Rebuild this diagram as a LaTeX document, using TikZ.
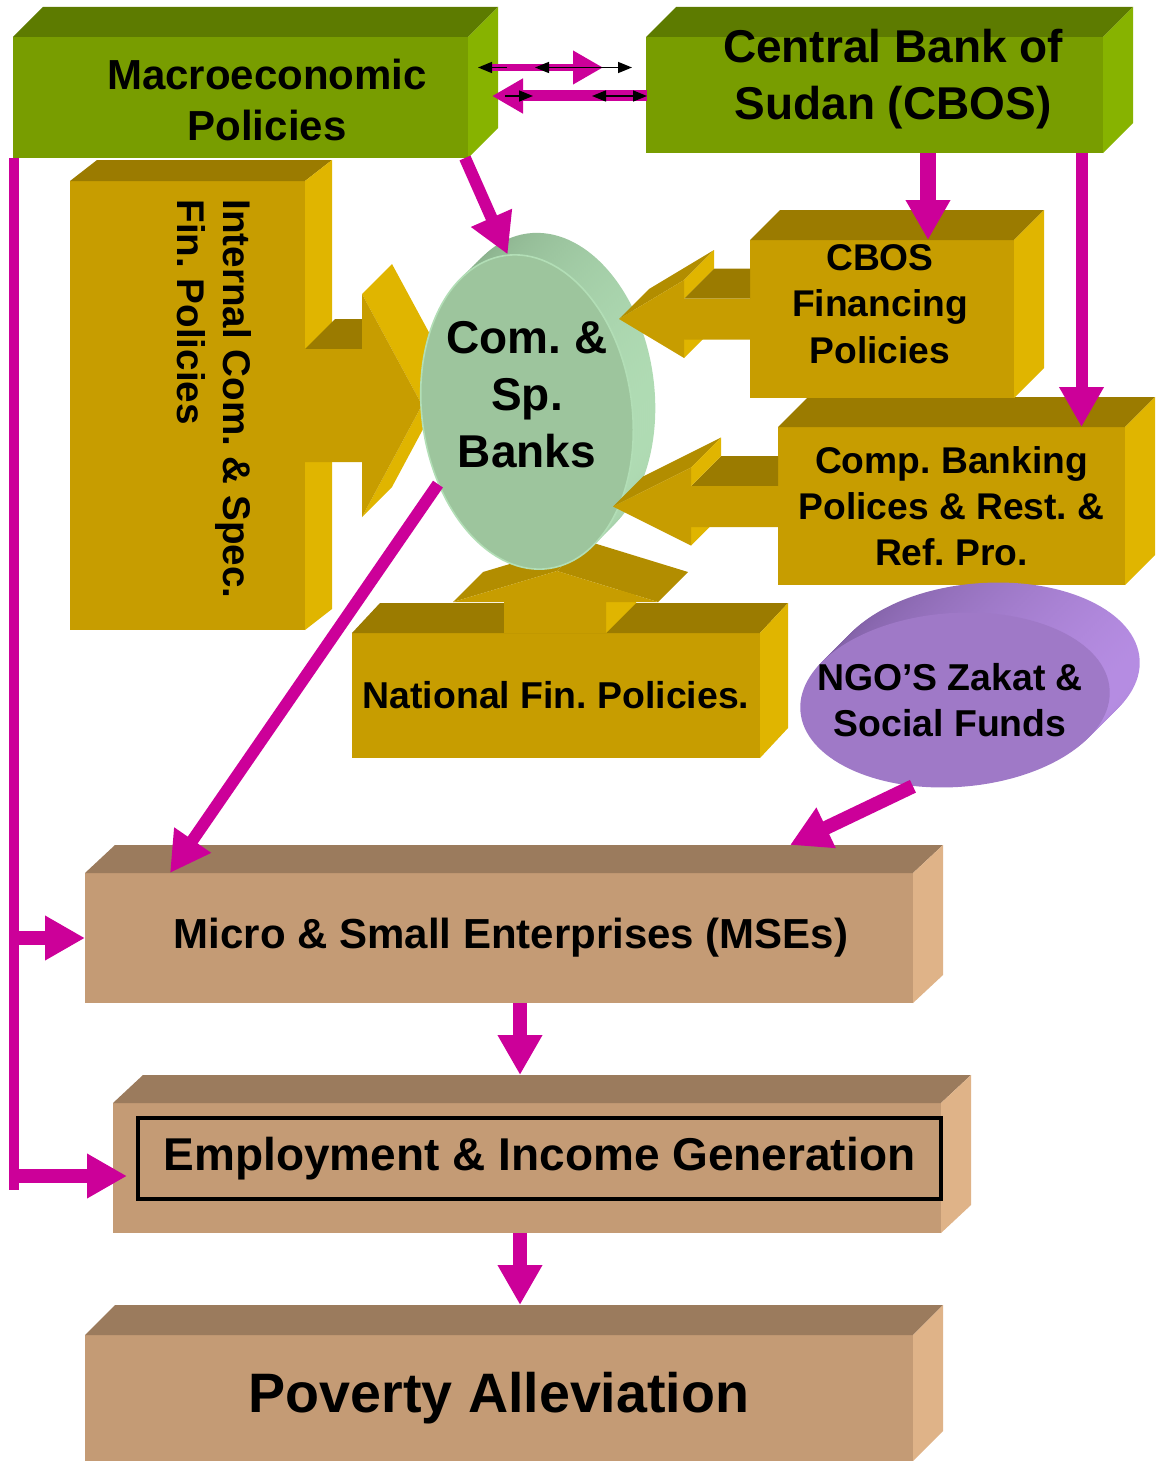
\documentclass[tikz,border=0pt]{standalone}
\usepackage{fontspec}
\setmainfont{Liberation Sans}
\usetikzlibrary{arrows.meta,shapes.geometric}
\frenchspacing

\definecolor{pinkc}{RGB}{204,0,153}
\definecolor{greenfront}{RGB}{120,157,0}
\definecolor{greentop}{RGB}{93,123,0}
\definecolor{greenside}{RGB}{135,179,0}
\definecolor{goldfront}{RGB}{199,157,0}
\definecolor{goldtop}{RGB}{155,123,0}
\definecolor{goldmid}{RGB}{178,141,0}
\definecolor{goldside}{RGB}{224,181,0}
\definecolor{tanfront}{RGB}{196,155,117}
\definecolor{tantop}{RGB}{155,123,93}
\definecolor{tanside}{RGB}{223,179,136}
\definecolor{bankfront}{RGB}{157,197,157}
\definecolor{bankdark}{RGB}{128,165,130}
\definecolor{banklight}{RGB}{178,222,182}
\definecolor{ngofront}{RGB}{159,121,199}
\definecolor{ngodark}{RGB}{126,94,162}
\definecolor{ngolight}{RGB}{182,141,227}

% top and side face of a block: node, depth x, depth y, top colour, side colour
\newcommand{\extrude}[5]{%
  \fill[#4] (#1.north west) -- ++(#2,#3) -- ([shift={(#2,#3)}]#1.north east) -- (#1.north east) -- cycle;
  \fill[#5] (#1.north east) -- ++(#2,#3) -- ([shift={(#2,#3)}]#1.south east) -- (#1.south east) -- cycle;
}

% block arrow pointing left: box edge x, head back x, tip x, centre y
\newcommand{\leftblock}[4]{%
  \fill[goldtop] (#2,#4-20.5) -- ++(30,-30) -- (#1,#4-50.5) -- (#1,#4-20.5) -- cycle;
  \fill[goldmid] (#3,#4) -- ++(30,-30) -- (#2+30,#4-69) -- (#2,#4-39) -- cycle;
  \fill[goldside] (#2,#4-39) -- ++(30,-30) -- (#2+30,#4-50.5) -- (#2,#4-20.5) -- cycle;
  \fill[goldside] (#2,#4+20.5) -- ++(30,-30) -- (#2+30,#4+9) -- (#2,#4+39) -- cycle;
  \fill[goldfront] (#1,#4-20.5) -- (#2,#4-20.5) -- (#2,#4-39) -- (#3,#4) -- (#2,#4+39) -- (#2,#4+20.5) -- (#1,#4+20.5) -- cycle;
}

\begin{document}
\begin{tikzpicture}[x=0.5pt, y=-0.5pt,
    face/.style={rectangle, inner sep=0pt, outer sep=0pt, anchor=north west},
    greenface/.style={face, fill=greenfront},
    goldface/.style={face, fill=goldfront},
    tanface/.style={face, fill=tanfront},
    words/.style 2 args={align=center, inner sep=0pt, font=\bfseries\fontsize{#1}{#2}\selectfont},
    pinkarrow/.style={draw=pinkc, line width=6pt, -{Triangle[length=20pt,width=21pt]}},
    pinkline/.style={draw=pinkc, line width=5pt},
    thinarrow/.style={draw=black, line width=0.75pt, >={Triangle[length=7pt,width=5.5pt]}}]

    \useasboundingbox (0,0) rectangle (1160,1461);

    % Policy blocks
    \node[greenface, minimum width=227.5pt, minimum height=60.5pt] (macro) at (13,37) {};
    \extrude{macro}{30}{-30}{greentop}{greenside}
    \node[words={21}{25.5}] (macrotext) at (267,100) {Macroeconomic\\Policies};

    \node[greenface, minimum width=228.5pt, minimum height=58pt] (cbos) at (646,37) {};
    \extrude{cbos}{30}{-30}{greentop}{greenside}
    \node[words={23}{28.5}] (cbostext) at (893,79) {Central Bank of\\Sudan (CBOS)};

    \node[goldface, minimum width=117.5pt, minimum height=224.5pt] (internal) at (70,181) {};
    \extrude{internal}{27}{-21}{goldtop}{goldside}
    \node[words={19.3}{23}, rotate=-90, align=left] (internaltext) at (214,399) {Internal Com. \& Spec.\\Fin. Policies};

    \node[goldface, words={18.6}{23}, minimum width=173.5pt, minimum height=79pt] (comp) at (778,427) {Comp. Banking\\Polices \& Rest. \&\\Ref. Pro.};
    \extrude{comp}{30}{-30}{goldtop}{goldside}

    \node[goldface, minimum width=132pt, minimum height=79pt] (fin) at (750,240) {};
    \extrude{fin}{30}{-30}{goldtop}{goldside}
    \node[words={18.6}{23.3}] (fintext) at (880,304) {CBOS\\Financing\\Policies};

    \node[goldface, words={18.7}{23}, minimum width=204pt, minimum height=62.5pt] (national) at (352,633) {National Fin. Policies.};
    \extrude{national}{28}{-30}{goldtop}{goldside}

    % Outcome blocks
    \node[tanface, words={21}{25}, minimum width=414pt, minimum height=65pt] (mse) at (85,873) {\hspace*{12pt}Micro \& Small Enterprises (MSEs)};
    \extrude{mse}{30}{-28}{tantop}{tanside}

    \node[tanface, minimum width=414pt, minimum height=65pt] (empl) at (113,1103) {};
    \extrude{empl}{30}{-28}{tantop}{tanside}
    \node[face, draw=black, line width=2pt, words={23}{27}, minimum width=401.5pt, minimum height=40.5pt] (emplframe) at (138,1118) {Employment \& Income Generation};

    \node[tanface, words={27.8}{32}, minimum width=414pt, minimum height=63pt] (pov) at (85,1335) {Poverty Alleviation};
    \extrude{pov}{30}{-30}{tantop}{tanside}

    % block arrow from the internal policies
    \fill[goldtop] (305,349) -- (335,319) -- (362,319) -- (362,349) -- cycle;
    \fill[goldside] (362,294) -- (392,264) -- (452,375) -- (422,405) -- cycle;
    \fill[goldside] (422,405) -- (452,375) -- (392,487) -- (362,517) -- cycle;
    \fill[goldfront] (305,349) -- (362,349) -- (362,294) -- (422,405) -- (362,517) -- (362,462) -- (305,462) -- cycle;

    % block arrow up from the national policies
    \fill[goldside] (606,633) -- (636,603) -- (636,572) -- (606,602) -- cycle;
    \fill[goldmid] (453,602) -- (483,572) -- (587,541) -- (557,571) -- cycle;
    \fill[goldmid] (557,571) -- (587,541) -- (688,572) -- (658,602) -- cycle;
    \fill[goldfront] (504,633) -- (504,602) -- (453,602) -- (557,571) -- (658,602) -- (606,602) -- (606,633) -- cycle;

    % Banks disc
    \coordinate (bankscentre) at (527,412);
    \foreach \k in {22,20,...,2} {
        \begin{scope}[shift={(527+\k,412-\k)}, rotate=8]
            \shade[left color=bankdark, right color=banklight] (0,0) ellipse [x radius=52.5pt, y radius=79pt];
        \end{scope}
    }
    \node[ellipse, rotate=8, fill=bankfront, draw=banklight, line width=0.8pt, minimum width=105pt, minimum height=158pt, inner sep=0pt] (banks) at (bankscentre) {};
    \node[words={23}{28.5}] (bankstext) at (527,395) {Com. \&\\Sp.\\Banks};

    \leftblock{750}{684}{619}{319}
    \leftblock{778}{691}{613}{506.5}

    % NGO disc
    \coordinate (ngocentre) at (955,700);
    \foreach \k in {30,28,...,2} {
        \begin{scope}[shift={(955+\k,700-\k)}, rotate=4]
            \shade[left color=ngodark, right color=ngolight] (0,0) ellipse [x radius=77.5pt, y radius=43.5pt];
        \end{scope}
    }
    \node[ellipse, rotate=4, fill=ngofront, minimum width=155pt, minimum height=87pt, inner sep=0pt] (ngo) at (ngocentre) {};
    \node[words={18.7}{23}] (ngotext) at (950,700) {NGO’S Zakat \&\\Social Funds};

    % Connectors
    \draw[pinkarrow] ([xshift=-1.5pt]macro.south east) -- (banks.89);
    \coordinate (finin) at ([xshift=23pt]fin.north);
    \draw[pinkarrow, line width=8pt] (finin |- cbos.south) -- (finin);
    \coordinate (compin) at ([xshift=65pt]comp.north);
    \draw[pinkarrow] (compin |- cbos.south) -- (compin);

    \coordinate (trunkend) at (14,1190);
    \draw[pinkline] (trunkend |- macro.south) -- (trunkend);
    \draw[pinkarrow, line width=7pt] (trunkend |- mse.west) -- (mse.west);
    \coordinate (emplside) at ([shift={(14,8)}]empl.west);
    \draw[pinkarrow, line width=7pt] (trunkend |- emplside) -- (emplside);

    \draw[pinkarrow] (banks.211) -- ([xshift=42.5pt]mse.north west);
    \draw[pinkarrow, line width=7pt] (ngo.240) -- ([shift={(-123,-28)}]mse.north east);

    \coordinate (emplin) at ([shift={(-7,-28)}]empl.north);
    \draw[pinkarrow, line width=7pt] (emplin |- mse.south) -- (emplin);
    \coordinate (povin) at ([shift={(21,-30)}]pov.north);
    \draw[pinkarrow, line width=7pt] (povin |- empl.south) -- (povin);

    % two-way links between the two top blocks
    \draw[draw=pinkc, line width=3.5pt, -{Triangle[length=15pt,width=16pt]}] ([shift={(24,-30)}]macro.east) -- ([shift={(-43,-27.5)}]cbos.west);
    \draw[draw=pinkc, line width=5.5pt, -{Triangle[length=15.5pt,width=16.5pt]}] ([shift={(1,1)}]cbos.west) -- ([shift={(24,-1.5)}]macro.east);
    \draw[thinarrow, ->] ([shift={(39,-30)}]macro.east) -- ([shift={(10,-30)}]macro.east);
    \draw[thinarrow, <->] ([shift={(67,-30)}]macro.east) -- ([shift={(-14,-27.5)}]cbos.west);
    \draw[thinarrow, ->] ([shift={(37,-1.5)}]macro.east) -- ([shift={(65,-1.5)}]macro.east);
    \draw[thinarrow, <->] ([shift={(-54,1)}]cbos.west) -- ([shift={(1,1)}]cbos.west);
\end{tikzpicture}
\end{document}
